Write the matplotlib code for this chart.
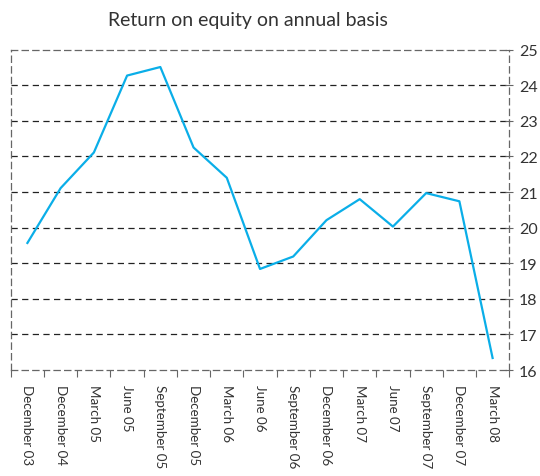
import matplotlib.pyplot as plt
import numpy as np

periods = ['December 03', 'December 04', 'March 05', 'June 05', 'September 05',
           'December 05', 'March 06', 'June 06', 'September 06', 'December 06',
           'March 07', 'June 07', 'September 07', 'December 07', 'March 08']
roe = [19.57, 21.11, 22.11, 24.27, 24.51, 22.25, 21.4, 18.84,
       19.19, 20.21, 20.8, 20.03, 20.97, 20.74, 16.34]
yticks = list(range(16, 26))

plt.rcParams['font.family'] = ['Lato', 'DejaVu Sans']

fig = plt.figure(figsize=(5.4, 4.77), dpi=100)
ax = fig.add_axes([0.020, 0.222, 0.923, 0.672])

x = np.arange(len(periods))
ax.plot(x, roe, color='#0aaee8', lw=1.6, zorder=3)

ax.set_xlim(-0.5, len(periods) - 0.5)
ax.set_ylim(16, 25)

# horizontal dashed grid
for v in yticks[1:-1]:
    ax.axhline(v, color='#222222', lw=0.9, ls=(0, (5, 3.5)), zorder=1)

for s in ax.spines.values():
    s.set_linestyle((0, (5, 3.5)))
    s.set_color('#666666')
    s.set_linewidth(0.9)

ax.yaxis.tick_right()
ax.set_yticks(yticks)
ax.tick_params(axis='y', direction='inout', length=6, width=0.8, color='#666666',
               labelsize=11.5, labelcolor='#333333', pad=4, left=False)

ax.set_xticks(x)
ax.set_xticklabels(periods, rotation=270, fontsize=9.6, color='#333333')
ax.tick_params(axis='x', which='major', length=0, pad=10)
ax.set_xticks(np.arange(-0.5, len(periods)), minor=True)
ax.tick_params(axis='x', which='minor', direction='out', length=5, width=0.8, color='#666666')

fig.suptitle('Return on equity on annual basis', x=0.46, y=0.975, fontsize=14, color='#333333')

fig.savefig('out.png', dpi=100)
